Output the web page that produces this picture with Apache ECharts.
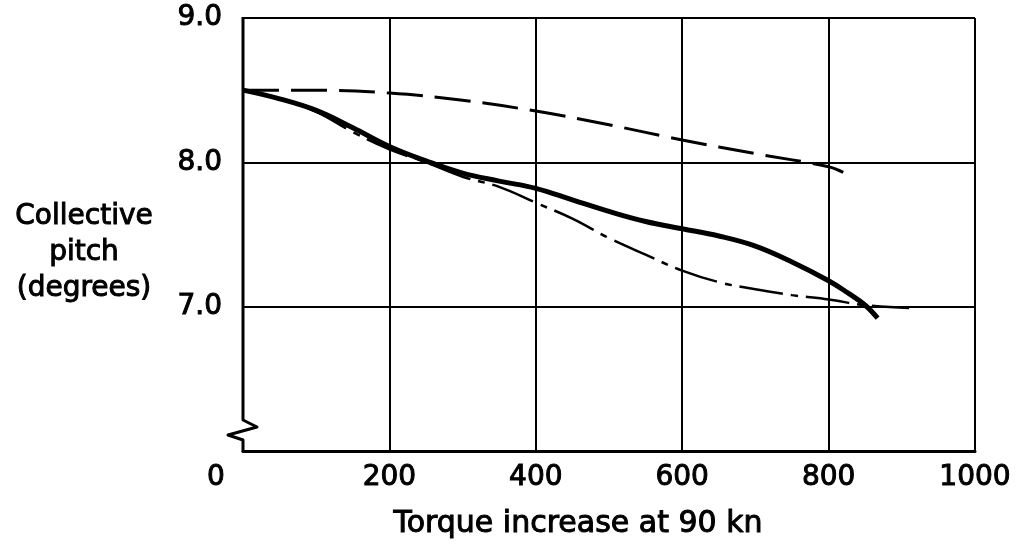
<!DOCTYPE html>
<html>
<head>
<meta charset="utf-8">
<script src="https://cdn.jsdelivr.net/npm/echarts@6/dist/echarts.min.js"></script>
<style>
  html, body { margin: 0; padding: 0; background: #fff; }
  #chart { width: 1020px; height: 548px; }
</style>
</head>
<body>
<div id="chart"></div>
<script>
// Axis ticks
const xTicks = [0, 200, 400, 600, 800, 1000];
const yTicks = [6, 7, 8, 9];

// Thick solid curve
const solidTorque = [0, 50, 100, 150, 200, 250, 300, 350, 400, 450, 500, 550, 600, 650, 700, 750, 800, 825, 850, 867];
const solidPitch  = [8.50, 8.44, 8.36, 8.24, 8.11, 8.01, 7.925, 7.87, 7.82, 7.74, 7.66, 7.59, 7.54, 7.49, 7.42, 7.31, 7.18, 7.10, 7.01, 6.92];

// Chain (dash-dot) curve
const chainTorque = [0, 50, 100, 150, 200, 250, 300, 350, 400, 450, 500, 550, 600, 650, 700, 750, 800, 850, 910];
const chainPitch  = [8.50, 8.44, 8.35, 8.21, 8.09, 8.00, 7.90, 7.83, 7.72, 7.61, 7.475, 7.36, 7.25, 7.17, 7.12, 7.08, 7.05, 7.01, 6.99];

// Long-dash curve
const dashTorque = [0, 100, 200, 300, 400, 500, 600, 700, 800, 820];
const dashPitch  = [8.50, 8.50, 8.48, 8.43, 8.355, 8.26, 8.155, 8.06, 7.97, 7.93];

const FONT = 'DejaVu Sans';
const INK = '#000';
const pairs = (xs, ys) => xs.map((x, i) => [x, ys[i]]);

// Heavier lettering: a thin outline in the text colour
const heavy = { textBorderColor: INK, textBorderWidth: 1 };

const chart = echarts.init(document.getElementById('chart'), null, { renderer: 'canvas' });

const option = {
  animation: false,
  backgroundColor: '#fff',
  grid: { left: 243, right: 45, top: 18, bottom: 97, containLabel: false, outerBoundsMode: 'none' },
  xAxis: {
    type: 'value',
    min: xTicks[0],
    max: xTicks[xTicks.length - 1],
    interval: 200,
    name: 'Torque increase at 90 kn',
    nameLocation: 'middle',
    nameGap: 58,
    nameTextStyle: Object.assign({ fontFamily: FONT, fontSize: 30, color: INK, padding: [0, 62, 0, 0] }, heavy),
    axisLine: { show: true, lineStyle: { color: INK, width: 3 } },
    axisTick: { show: false },
    axisLabel: Object.assign({
      margin: 13,
      fontFamily: FONT,
      fontSize: 28,
      color: INK,
      formatter: v => (v === 0 ? '{z|0}' : String(v)),
      rich: { z: Object.assign({ fontFamily: FONT, fontSize: 28, color: INK, padding: [0, 54, 0, 0] }, heavy) }
    }, heavy),
    splitLine: { show: true, showMinLine: false, lineStyle: { color: INK, width: 2 } }
  },
  yAxis: {
    type: 'value',
    min: yTicks[0],
    max: yTicks[yTicks.length - 1],
    interval: 1,
    axisLine: { show: false },
    axisTick: { show: false },
    axisLabel: Object.assign({
      margin: 21,
      fontFamily: FONT,
      fontSize: 28,
      color: INK,
      formatter: v => (v === yTicks[0] ? '' : v.toFixed(1))
    }, heavy),
    splitLine: { show: true, lineStyle: { color: INK, width: 2 } }
  },
  series: [
    {
      type: 'line',
      data: pairs(dashTorque, dashPitch),
      showSymbol: false,
      smooth: 0.4,
      lineStyle: { color: INK, width: 3, type: [36, 12] },
      z: 3
    },
    {
      type: 'line',
      data: pairs(chainTorque, chainPitch),
      showSymbol: false,
      smooth: 0.4,
      lineStyle: { color: INK, width: 2.5, type: [44, 8, 7, 8] },
      z: 3
    },
    {
      type: 'line',
      data: pairs(solidTorque, solidPitch),
      showSymbol: false,
      smooth: 0.4,
      lineStyle: { color: INK, width: 5 },
      z: 4
    }
  ]
};

chart.setOption(option);

// Left axis with a break mark near its foot, placed from the axis scale
const axisTop = chart.convertToPixel({ gridIndex: 0 }, [xTicks[0], yTicks[yTicks.length - 1]]);
const axisFoot = chart.convertToPixel({ gridIndex: 0 }, [xTicks[0], yTicks[0]]);
const ax = axisFoot[0], by = axisFoot[1];

chart.setOption({
  graphic: [
    {
      type: 'polyline',
      z: 10,
      shape: {
        points: [
          [ax, axisTop[1] - 1],
          [ax, by - 31],
          [ax + 14, by - 24],
          [ax - 15, by - 16],
          [ax, by - 11],
          [ax, by + 1]
        ]
      },
      style: { stroke: INK, lineWidth: 3, fill: null, lineJoin: 'round' }
    },
    {
      type: 'text',
      z: 10,
      x: 84,
      y: 253,
      style: {
        text: 'Collective\npitch\n(degrees)',
        font: '28px "' + FONT + '"',
        fill: INK,
        stroke: INK,
        lineWidth: 1,
        align: 'center',
        verticalAlign: 'middle',
        lineHeight: 36
      }
    }
  ]
});
</script>
</body>
</html>
